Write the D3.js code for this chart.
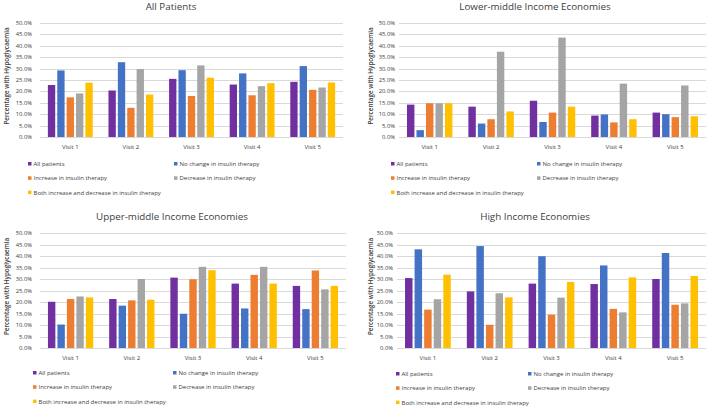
<!DOCTYPE html>
<html><head><meta charset="utf-8">
<script src="https://cdn.jsdelivr.net/npm/d3@7"></script>
<style>
html,body{margin:0;padding:0;background:#fff;}
svg{display:block;font-family:"Open Sans",sans-serif;}
</style></head>
<body>
<svg id="c" width="709" height="407"></svg>
<script>
const visits = ["Visit 1","Visit 2","Visit 3","Visit 4","Visit 5"];
const seriesNames = ["All patients","No change in insulin therapy","Increase in insulin therapy","Decrease in insulin therapy","Both increase and decrease in insulin therapy"];
const seriesColors = ["#7030A0","#4472C4","#ED7D31","#A5A5A5","#FFC000"];
const yTicks = [0,5,10,15,20,25,30,35,40,45,50];

// values (%) per series, by visit
const allPatientsValues = [
  [22.8,20.4,25.5,23.0,24.2],
  [29.2,32.8,29.3,27.9,31.1],
  [17.4,12.8,18.0,18.3,20.7],
  [19.1,29.8,31.4,22.3,21.7],
  [23.8,18.6,26.0,23.6,23.9]
];
const lowerMiddleValues = [
  [14.2,13.3,15.9,9.4,10.7],
  [3.0,5.9,6.6,9.9,10.0],
  [14.8,7.8,10.7,6.4,8.7],
  [14.8,37.4,43.6,23.4,22.6],
  [14.8,11.2,13.3,7.8,9.1]
];
const upperMiddleValues = [
  [20.1,21.3,30.6,28.0,27.0],
  [10.2,18.4,14.9,17.2,16.9],
  [21.3,20.7,29.9,31.8,33.7],
  [22.4,30.0,35.3,35.3,25.5],
  [22.0,21.0,33.8,28.0,27.0]
];
const highIncomeValues = [
  [30.4,24.6,28.0,27.8,30.0],
  [42.9,44.3,39.9,35.9,41.3],
  [16.7,10.1,14.5,17.0,18.8],
  [21.2,23.8,21.9,15.5,19.4],
  [31.9,22.0,28.7,30.7,31.3]
];

const panels = [
  {title:"All Patients", values:allPatientsValues, x0:40, x1:343, yTop:23, yBot:137, titleX:171, titleY:10, tickX:32, ytX:7, legX1:28, legX2:174, legY:164},
  {title:"Lower-middle Income Economies", values:lowerMiddleValues, x0:399, x1:706, yTop:23, yBot:137, titleX:535, titleY:10, tickX:395, ytX:371, legX1:391, legX2:537, legY:164},
  {title:"Upper-middle Income Economies", values:upperMiddleValues, x0:40, x1:346, yTop:233, yBot:348, titleX:172, titleY:220, tickX:32, ytX:7, legX1:33, legX2:173, legY:373},
  {title:"High Income Economies", values:highIncomeValues, x0:397, x1:706, yTop:233, yBot:348, titleX:535, titleY:220, tickX:393, ytX:371, legX1:396, legX2:528, legY:374}
];

const textColor = "#404040";
const svg = d3.select("#c");

panels.forEach(p => {
  const g = svg.append("g");
  const y = d3.scaleLinear().domain([0,50]).range([p.yBot,p.yTop]);
  const x0 = d3.scaleBand().domain(visits).range([p.x0,p.x1]).paddingInner(0.26).paddingOuter(0.13);
  const x1 = d3.scaleBand().domain(d3.range(seriesNames.length)).range([0,x0.bandwidth()]).paddingInner(0.22);

  // grid
  g.append("g").selectAll("line").data(yTicks).join("line")
    .attr("x1",p.x0).attr("x2",p.x1)
    .attr("y1",d=>Math.round(y(d))+0.5).attr("y2",d=>Math.round(y(d))+0.5)
    .attr("stroke","#D9D9D9").attr("stroke-width",1);

  // y tick labels
  g.append("g").selectAll("text").data(yTicks).join("text")
    .attr("x",p.tickX).attr("y",d=>y(d)).attr("dy","0.35em")
    .attr("text-anchor","end").attr("font-size","5.8px").attr("fill",textColor)
    .text(d=>d3.format(".1f")(d)+"%");

  // bars
  p.values.forEach((vals,si) => {
    g.append("g").selectAll("rect").data(vals).join("rect")
      .attr("x",(d,i)=>x0(visits[i])+x1(si))
      .attr("width",x1.bandwidth())
      .attr("y",d=>y(d))
      .attr("height",d=>y(0)-y(d))
      .attr("fill",seriesColors[si]);
  });

  // x labels
  g.append("g").selectAll("text").data(visits).join("text")
    .attr("x",d=>x0(d)+x0.bandwidth()/2).attr("y",p.yBot+12)
    .attr("text-anchor","middle").attr("font-size","6px").attr("fill",textColor)
    .text(d=>d);

  // title
  g.append("text").attr("x",p.titleX).attr("y",p.titleY)
    .attr("text-anchor","middle").attr("font-size","9.8px").attr("fill",textColor)
    .text(p.title);

  // y axis title
  const yc = (p.yTop+p.yBot)/2 - 4;
  g.append("text").attr("transform",`translate(${p.ytX},${yc}) rotate(-90)`)
    .attr("dy","0.35em")
    .attr("text-anchor","middle").attr("font-size","6.3px").attr("font-weight","600").attr("fill",textColor)
    .text("Percentage with Hypoglycaemia");

  // legend
  const leg = g.append("g");
  seriesNames.forEach((name,i) => {
    const col = i%2, row = Math.floor(i/2);
    const lx = col===0 ? p.legX1 : p.legX2;
    const ly = p.legY + row*14.3;
    leg.append("rect").attr("x",lx).attr("y",ly-2).attr("width",3.5).attr("height",3.5).attr("fill",seriesColors[i]);
    leg.append("text").attr("x",lx+5.5).attr("y",ly).attr("dy","0.35em")
      .attr("font-size","6px").attr("fill",textColor).text(name);
  });
});
</script>
</body></html>
